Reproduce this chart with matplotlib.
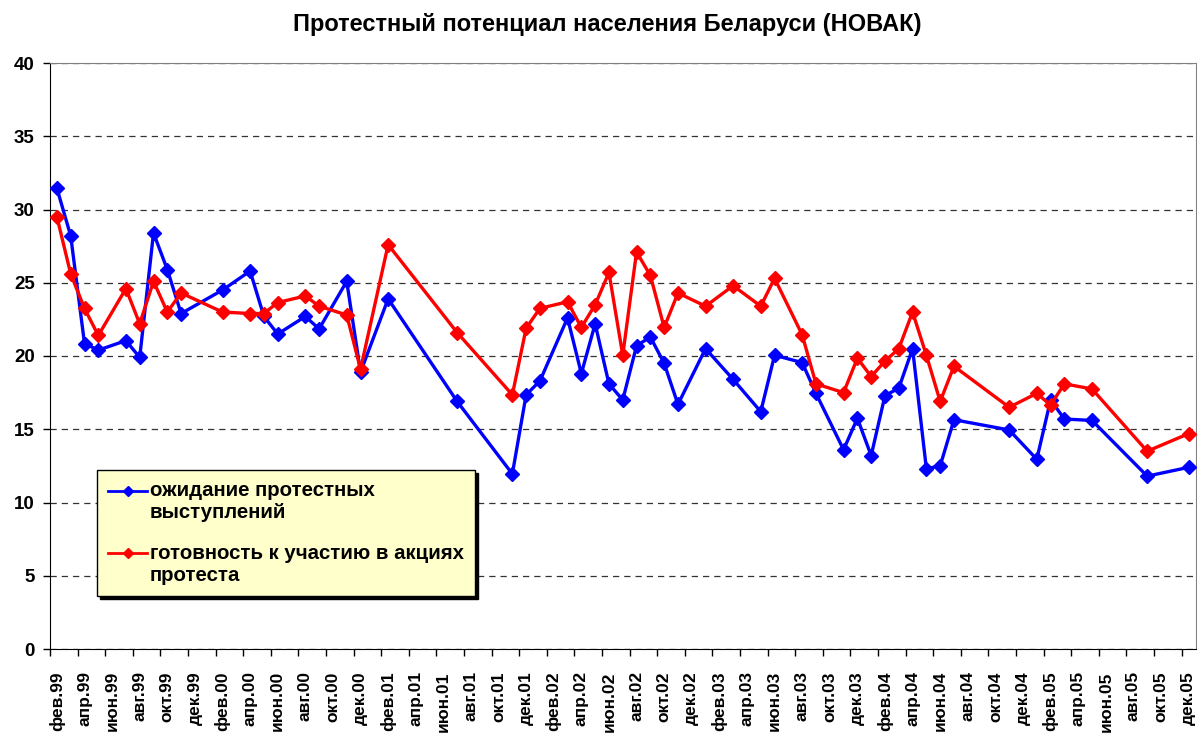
import numpy as np
import matplotlib
matplotlib.use('Agg')
import matplotlib.pyplot as plt
from matplotlib.ticker import FixedLocator

plt.rcParams['font.family'] = ['Liberation Sans', 'DejaVu Sans']
plt.rcParams['font.weight'] = 'bold'

# monthly category axis фев.99 .. дек.05
month_names = ['янв', 'фев', 'мар', 'апр', 'май', 'июн',
               'июл', 'авг', 'сен', 'окт', 'ноя', 'дек']
years = ['99', '00', '01', '02', '03', '04', '05']
categories = []
for y in years:
    for m in month_names:
        categories.append(m + '.' + y)
categories = categories[1:]  # series starts in February 1999

survey_months = ['фев.99', 'мар.99', 'апр.99', 'май.99', 'июл.99', 'авг.99', 'сен.99',
                 'окт.99', 'ноя.99', 'фев.00', 'апр.00', 'май.00', 'июн.00', 'авг.00',
                 'сен.00', 'ноя.00', 'дек.00', 'фев.01', 'июл.01', 'ноя.01', 'дек.01',
                 'янв.02', 'мар.02', 'апр.02', 'май.02', 'июн.02', 'июл.02', 'авг.02',
                 'сен.02', 'окт.02', 'ноя.02', 'янв.03', 'мар.03', 'май.03', 'июн.03',
                 'авг.03', 'сен.03', 'ноя.03', 'дек.03', 'янв.04', 'фев.04', 'мар.04',
                 'апр.04', 'май.04', 'июн.04', 'июл.04', 'ноя.04', 'янв.05', 'фев.05',
                 'мар.05', 'май.05', 'сен.05', 'дек.05']

expect_protest = [31.45, 28.2, 20.85, 20.4, 21.05, 19.9, 28.4, 25.9, 22.9, 24.5, 25.8,
                  22.7, 21.5, 22.7, 21.85, 25.1, 18.9, 23.9, 16.9, 11.95, 17.35, 18.3,
                  22.6, 18.8, 22.2, 18.1, 17.0, 20.7, 21.3, 19.5, 16.7, 20.5, 18.4, 16.2,
                  20.05, 19.55, 17.45, 13.6, 15.75, 13.2, 17.3, 17.8, 20.5, 12.3, 12.5,
                  15.65, 14.95, 12.95, 17.0, 15.7, 15.6, 11.8, 12.4]

ready_protest = [29.5, 25.6, 23.25, 21.4, 24.6, 22.2, 25.1, 23.0, 24.3, 23.0, 22.9,
                 22.9, 23.65, 24.1, 23.4, 22.8, 19.1, 27.6, 21.6, 17.35, 21.9, 23.25,
                 23.7, 21.95, 23.5, 25.7, 20.05, 27.1, 25.5, 21.95, 24.3, 23.4, 24.8,
                 23.4, 25.3, 21.45, 18.1, 17.5, 19.85, 18.6, 19.65, 20.5, 23.0, 20.05,
                 16.9, 19.3, 16.5, 17.45, 16.65, 18.1, 17.75, 13.5, 14.7]

labels = ['ожидание протестных\nвыступлений',
          'готовность к участию в акциях\nпротеста']

x = [categories.index(m) for m in survey_months]

fig = plt.figure(figsize=(11.97, 7.33), dpi=100)
ax = fig.add_axes([50 / 1197, 84 / 733, 1145.5 / 1197, 586 / 733])

ax.plot(x, expect_protest, color='#0000FF', lw=2.4, marker='D', ms=7,
        label=labels[0], zorder=3)
ax.plot(x, ready_protest, color='#FF0000', lw=2.4, marker='D', ms=7,
        label=labels[1], zorder=3)

ax.set_xlim(-0.5, len(categories) - 0.5)
ax.set_ylim(0, 40)
ax.set_yticks(range(0, 41, 5))
ax.yaxis.grid(True, linestyle=(0, (5, 4)), color='#333333', lw=0.9)
ax.set_axisbelow(True)

# labels on every second month, tick marks on category boundaries
ax.set_xticks(range(0, len(categories), 2))
ax.set_xticklabels(categories[::2], rotation=90, va='top', ha='center')
ax.xaxis.set_minor_locator(FixedLocator(np.arange(-0.5, len(categories) - 1, 2)))
ax.tick_params(axis='x', which='major', length=0, pad=16, labelsize=12.5)
ax.tick_params(axis='x', which='minor', length=5, width=1, direction='out')
ax.tick_params(axis='y', length=5, width=1, direction='out', pad=6, labelsize=13.5)

for s in ['top', 'right']:
    ax.spines[s].set_color('#808080')
for s in ['left', 'bottom']:
    ax.spines[s].set_color('black')

leg = ax.legend(loc='upper left', bbox_to_anchor=(47 / 1145.5, (649 - 470) / 586),
                borderaxespad=0, fontsize=14.7, handlelength=1.9, handletextpad=0.15,
                borderpad=0.55, labelspacing=1.05, fancybox=False,
                shadow={'color': 'black', 'alpha': 1.0})
leg.get_frame().set_facecolor('#FFFFCC')
leg.get_frame().set_edgecolor('black')
leg.get_frame().set_alpha(1)
leg.get_frame().set_linewidth(1)
for line in leg.get_lines():
    line.set_markersize(5)
    line.set_linewidth(2)
    # put the handle level with the first line of its label
    line.set_ydata(np.asarray(line.get_ydata()) + 8)

fig.text(607 / 1197, 1 - 24 / 733, 'Протестный потенциал населения Беларуси (НОВАК)',
         ha='center', va='center', fontsize=17, fontweight='bold')

fig.savefig('out.png', dpi=100)
